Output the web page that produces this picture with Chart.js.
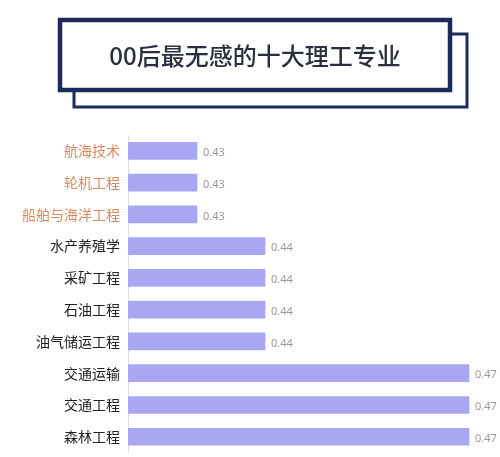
<!DOCTYPE html>
<html><head><meta charset="utf-8">
<script src="https://cdn.jsdelivr.net/npm/chart.js@4"></script>
<style>html,body{margin:0;padding:0;background:#fff;overflow:hidden}#w{width:500px;height:469px}</style>
</head><body><div id="w"><canvas id="c"></canvas></div>
<script>
const title = "00后最无感的十大理工专业";
const categories = ["航海技术","轮机工程","船舶与海洋工程","水产养殖学","采矿工程","石油工程","油气储运工程","交通运输","交通工程","森林工程"];
const values = [0.43,0.43,0.43,0.44,0.44,0.44,0.44,0.47,0.47,0.47];
const labelColors = ["#d98a60","#d98a60","#d98a60","#222","#222","#222","#222","#222","#222","#222"];

const deco = {
  id:'deco',
  beforeDraw(ch){
    const c=ch.ctx; c.save();
    c.strokeStyle='#1d2a5c';
    c.lineWidth=3; c.strokeRect(74,34,393,73);
    c.fillStyle='#fff'; c.fillRect(58,18,394,74);
    c.lineWidth=4.5; c.strokeRect(60,20,390,70);
    c.fillStyle='#2a2f3d'; c.font='500 24px "Noto Sans CJK SC"';
    c.textAlign='center'; c.textBaseline='middle';
    c.fillText(title,255,56);
    c.restore();
  },
  afterDatasetsDraw(ch){
    const c=ch.ctx; c.save();
    c.fillStyle='#999'; c.font='11px "Noto Sans", sans-serif'; c.textBaseline='middle';
    ch.getDatasetMeta(0).data.forEach((b,i)=>{ c.fillText(values[i].toFixed(2), b.x+6, b.y+2); });
    c.restore();
  }
};

new Chart(document.getElementById('c'),{
  type:'bar',
  data:{labels:categories,datasets:[{data:values,backgroundColor:'#a9a7f2',barThickness:17}]},
  options:{
    indexAxis:'y',responsive:true,maintainAspectRatio:false,animation:false,
    layout:{padding:{top:135,right:0,bottom:0,left:0}},
    plugins:{legend:{display:false},tooltip:{enabled:false}},
    scales:{
      x:{min:0.41985,max:0.47455,display:false},
      y:{grid:{display:false,drawTicks:false},border:{color:'#ddd'},
         afterFit(s){s.width=128;},
         ticks:{padding:8,color:(ctx)=>labelColors[ctx.index],font:{size:14,family:'"Noto Sans CJK SC"'}}}
    }
  },
  plugins:[deco]
});
</script></body></html>
